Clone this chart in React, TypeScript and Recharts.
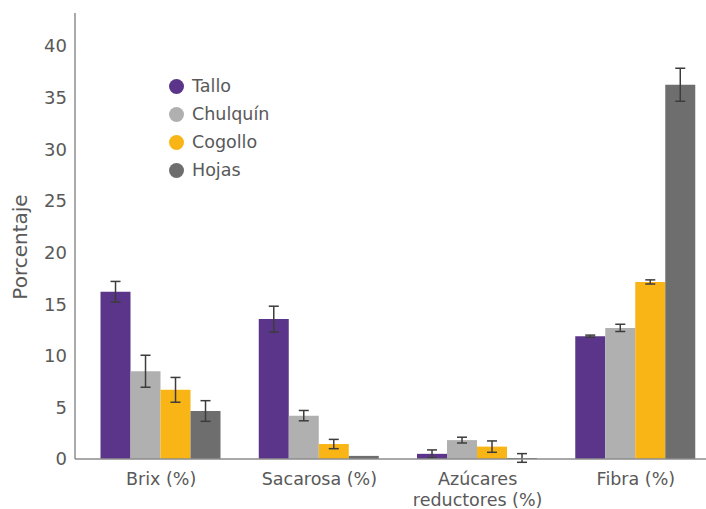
import React from 'react';
import { BarChart, Bar, XAxis, YAxis, ErrorBar, Label } from 'recharts';

const categories = ['Brix (%)', 'Sacarosa (%)', 'Azúcares\nreductores (%)', 'Fibra (%)'];

const tallo = [16.2, 13.55, 0.5, 11.9];
const talloErr = [1.0, 1.25, 0.38, 0.1];
const chulquin = [8.5, 4.2, 1.83, 12.7];
const chulquinErr = [1.55, 0.5, 0.28, 0.35];
const cogollo = [6.7, 1.45, 1.2, 17.15];
const cogolloErr = [1.2, 0.45, 0.55, 0.2];
const hojas = [4.65, 0.3, 0.1, 36.25];
const hojasErr = [1.0, null, 0.42, 1.6];

const yTicks = [0, 5, 10, 15, 20, 25, 30, 35, 40];

const series = [
  { key: 'tallo', name: 'Tallo', color: '#5b3589' },
  { key: 'chulquin', name: 'Chulquín', color: '#b0b0b0' },
  { key: 'cogollo', name: 'Cogollo', color: '#f9b515' },
  { key: 'hojas', name: 'Hojas', color: '#6e6e6e' },
];

const data = categories.map((name, i) => ({
  name,
  tallo: tallo[i],
  talloErr: talloErr[i],
  chulquin: chulquin[i],
  chulquinErr: chulquinErr[i],
  cogollo: cogollo[i],
  cogolloErr: cogolloErr[i],
  hojas: hojas[i],
  hojasErr: hojasErr[i],
}));

const FONT = '"DejaVu Sans", sans-serif';
const TEXT = '#595959';
const AXIS = '#8c8c8c';

// category labels can span two lines
const CategoryTick = (props: any) => {
  const { x, y, payload } = props;
  const lines = String(payload.value).split('\n');
  return (
    <text x={x} y={y + 18} textAnchor="middle" fill={TEXT} fontSize={17.5} fontFamily={FONT}>
      {lines.map((l, i) => (
        <tspan key={i} x={x} dy={i === 0 ? 0 : 21}>
          {l}
        </tspan>
      ))}
    </text>
  );
};

// legend sits inside the plot, top left
const LegendList = () => (
  <div
    style={{
      position: 'absolute',
      left: 169,
      top: 72,
      fontFamily: FONT,
      fontSize: 17.5,
      color: TEXT,
    }}
  >
    {series.map((s) => (
      <div key={s.key} style={{ display: 'flex', alignItems: 'center', height: 28 }}>
        <span
          style={{
            width: 15,
            height: 15,
            borderRadius: '50%',
            background: s.color,
            display: 'inline-block',
            marginRight: 8,
          }}
        />
        {s.name}
      </div>
    ))}
  </div>
);

export default function App() {
  return (
    <div style={{ position: 'absolute', left: 0, top: 0, width: 706, height: 509, overflow: 'hidden', background: '#fff' }}>
      <BarChart
        width={720}
        height={509}
        data={data}
        margin={{ top: 13, right: 5, bottom: 0, left: 0 }}
        barCategoryGap="11.7%"
        barGap={0}
      >
        <XAxis
          dataKey="name"
          height={50}
          tickLine={false}
          axisLine={{ stroke: AXIS, strokeWidth: 1.5 }}
          padding={{ left: 7, right: 0 }}
          tick={<CategoryTick />}
          interval={0}
        />
        <YAxis
          width={75}
          domain={[0, 43.2]}
          ticks={yTicks}
          tickLine={false}
          axisLine={{ stroke: AXIS, strokeWidth: 1.5 }}
          tick={{ fill: TEXT, fontSize: 18, fontFamily: FONT }}
          allowDataOverflow
        >
          <Label
            content={() => (
              <text
                x={20}
                y={247}
                transform="rotate(-90, 20, 247)"
                textAnchor="middle"
                dominantBaseline="central"
                fill={TEXT}
                fontSize={20}
                fontFamily={FONT}
              >
                Porcentaje
              </text>
            )}
          />
        </YAxis>
        {series.map((s) => (
          <Bar key={s.key} dataKey={s.key} name={s.name} fill={s.color} isAnimationActive={false}>
            <ErrorBar dataKey={`${s.key}Err`} width={5} stroke="#3c3c3c" strokeWidth={1.5} />
          </Bar>
        ))}
      </BarChart>
      <LegendList />
    </div>
  );
}
